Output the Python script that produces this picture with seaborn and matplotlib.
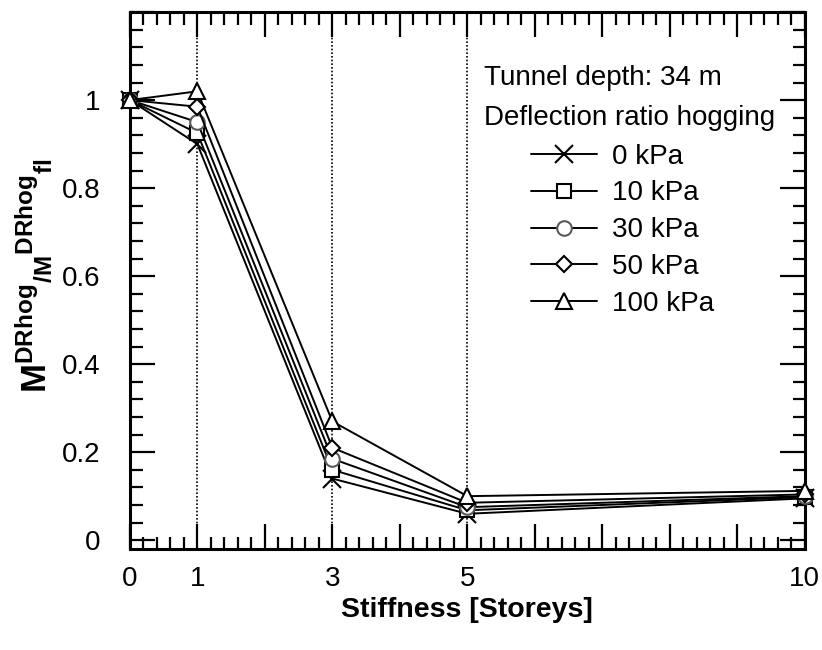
import matplotlib
matplotlib.use("Agg")
import matplotlib.pyplot as plt
from matplotlib.lines import Line2D
from matplotlib.ticker import MultipleLocator, FuncFormatter
import numpy as np
import pandas as pd
import seaborn as sns

# Normalised hogging deflection ratio vs. building stiffness
storeys = [0, 1, 3, 5, 10]
pressures = ["0 kPa", "10 kPa", "30 kPa", "50 kPa", "100 kPa"]
ratio_0kpa = [1.00, 0.90, 0.14, 0.060, 0.095]
ratio_10kpa = [1.00, 0.925, 0.16, 0.068, 0.098]
ratio_30kpa = [1.00, 0.95, 0.185, 0.075, 0.100]
ratio_50kpa = [1.00, 0.985, 0.21, 0.085, 0.104]
ratio_100kpa = [1.00, 1.02, 0.27, 0.100, 0.112]
x_tick_labels = ["0", "1", "3", "5", "10"]
y_tick_labels = ["0", "0.2", "0.4", "0.6", "0.8", "1"]
header_lines = ["Tunnel depth: 34 m", "Deflection ratio hogging"]

series = [ratio_0kpa, ratio_10kpa, ratio_30kpa, ratio_50kpa, ratio_100kpa]
df = pd.DataFrame(
    [(s, p, v) for p, vals in zip(pressures, series) for s, v in zip(storeys, vals)],
    columns=["storeys", "pressure", "ratio"],
)

sns.set_theme(style="ticks")
plt.rcParams["font.family"] = ["Liberation Sans", "DejaVu Sans"]
plt.rcParams["mathtext.fontset"] = "custom"
plt.rcParams["mathtext.rm"] = "Liberation Sans"
plt.rcParams["mathtext.bf"] = "Liberation Sans:bold"
plt.rcParams["text.color"] = "black"
plt.rcParams["axes.labelcolor"] = "black"

markers = {"0 kPa": "x", "10 kPa": "s", "30 kPa": "o", "50 kPa": "D", "100 kPa": "^"}
msizes = {"0 kPa": 13, "10 kPa": 9.5, "30 kPa": 10.5, "50 kPa": 8.5, "100 kPa": 11.5}
edge = {"0 kPa": "black", "10 kPa": "black", "30 kPa": "0.35", "50 kPa": "black", "100 kPa": "black"}

FS = 20

fig = plt.figure(figsize=(8.22, 6.5), dpi=100)
ax = fig.add_axes([0.158, 0.1554, 0.821, 0.826])

for x in [1, 3, 5]:
    ax.axvline(x, color="black", linestyle=(0, (1, 1.2)), linewidth=1.2, zorder=1)

for p in pressures:
    sns.lineplot(
        data=df[df["pressure"] == p], x="storeys", y="ratio", color="black",
        marker=markers[p], markersize=msizes[p], linewidth=1.4,
        markerfacecolor="white", markeredgecolor=edge[p], markeredgewidth=1.5,
        legend=False, ax=ax, zorder=3, clip_on=False,
    )

ax.set_xlim(0, 10)
ax.set_ylim(-0.02, 1.2)
ax.xaxis.set_major_locator(MultipleLocator(1))
ax.xaxis.set_minor_locator(MultipleLocator(0.2))
ax.yaxis.set_major_locator(MultipleLocator(0.2))
ax.yaxis.set_minor_locator(MultipleLocator(0.04))

def xfmt(v, pos):
    s = f"{v:g}"
    return s if s in x_tick_labels else ""

def yfmt(v, pos):
    s = f"{round(v, 6):g}"
    return s if s in y_tick_labels else ""

ax.xaxis.set_major_formatter(FuncFormatter(xfmt))
ax.yaxis.set_major_formatter(FuncFormatter(yfmt))

ax.tick_params(which="both", direction="in", top=True, right=True, width=1.6, color="black")
ax.tick_params(which="major", length=18, labelsize=FS, labelcolor="black")
ax.tick_params(which="minor", length=9)
ax.tick_params(axis="x", which="major", pad=12)
ax.tick_params(axis="y", which="major", pad=21)
for sp in ax.spines.values():
    sp.set_linewidth(2.2)
    sp.set_color("black")

ax.set_xlabel("Stiffness [Storeys]", fontsize=20.5, fontweight="bold", labelpad=4, color="black")
ax.set_ylabel(r"$\mathbf{M^{DRhog}{}_{/M}{}^{DRhog}{}_{fl}}$", fontsize=25, labelpad=4, color="black")
ax.yaxis.set_label_coords(-0.113, 0.51)

for i, txt in enumerate(header_lines):
    ax.text(0.524, 0.877 - i * 0.075, txt, transform=ax.transAxes, fontsize=FS,
            va="center", ha="left", color="black")

handles = [
    Line2D([0], [0], color="black", linewidth=1.4, marker=markers[p],
           markersize=msizes[p], markerfacecolor="white",
           markeredgecolor=edge[p], markeredgewidth=1.5)
    for p in pressures
]
leg = ax.legend(handles, pressures, loc="upper left", bbox_to_anchor=(0.594, 0.755),
                frameon=False, fontsize=FS, handlelength=2.4, handletextpad=0.54,
                labelspacing=0.39, borderpad=0, borderaxespad=0)
for t in leg.get_texts():
    t.set_color("black")

fig.savefig("out.png", dpi=100)
